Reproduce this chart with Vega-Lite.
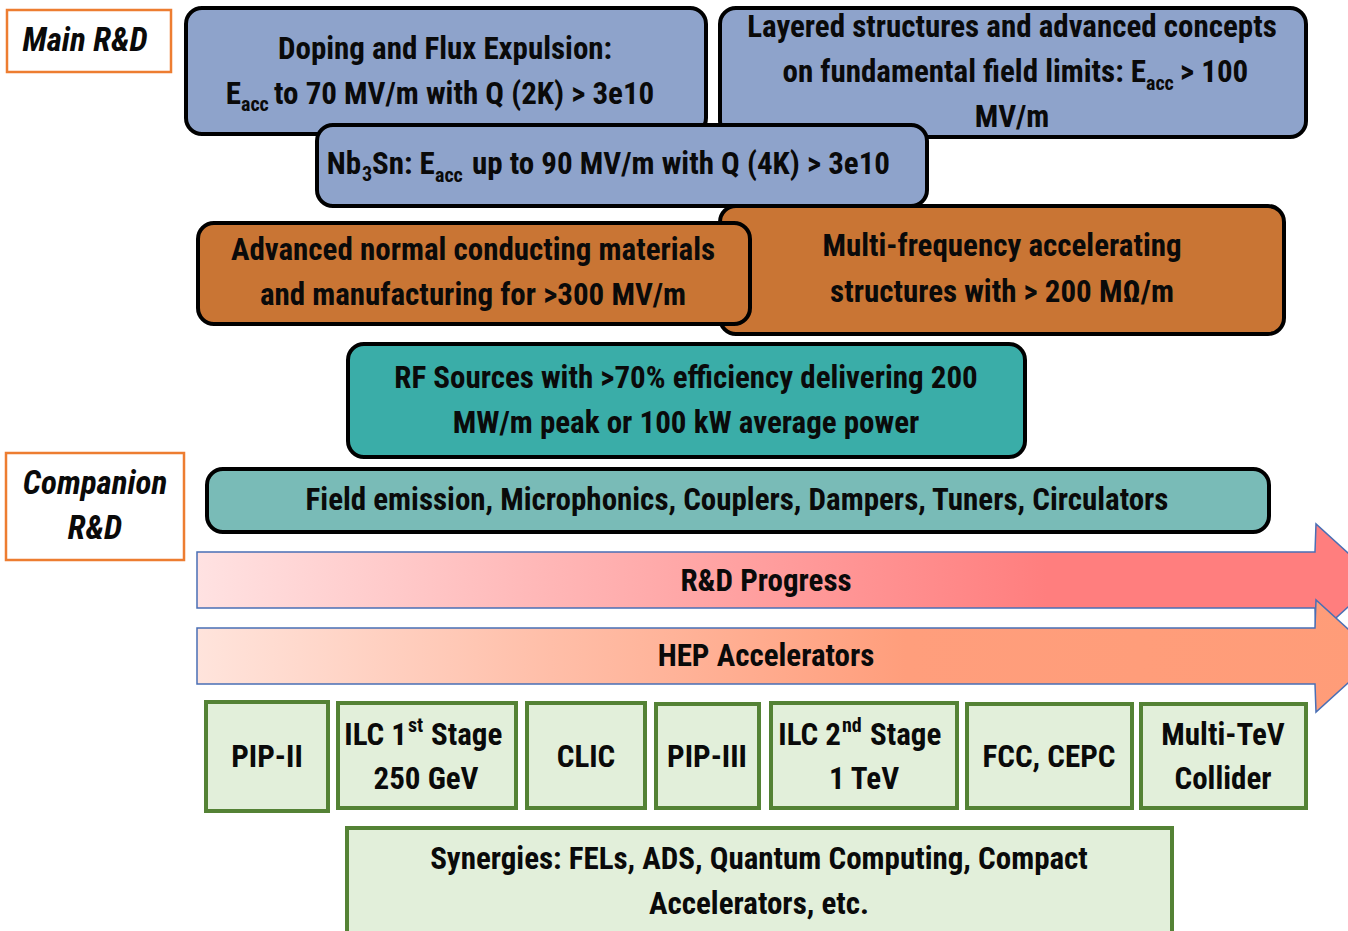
{
  "$schema": "https://vega.github.io/schema/vega-lite/v6.json",
  "width": 1348,
  "height": 931,
  "padding": 0,
  "autosize": {"type": "none"},
  "background": "white",
  "config": {
    "view": {"stroke": null},
    "text": {"font": "Roboto Condensed, Liberation Sans Narrow, DejaVu Sans Condensed, sans-serif", "fontWeight": "bold", "color": "#0A0A0A", "baseline": "middle"}
  },
  "datasets": {
    "boxes": [
      {"name": "Main R&D", "kind": "label", "x": 7, "x2": 171, "y": 10, "y2": 72},
      {"name": "Companion R&D", "kind": "label", "x": 6, "x2": 184, "y": 453, "y2": 560},
      {"name": "Doping", "kind": "blue", "x": 186, "x2": 706, "y": 8, "y2": 134},
      {"name": "Layered", "kind": "blue", "x": 720, "x2": 1306, "y": 8, "y2": 137},
      {"name": "Nb3Sn", "kind": "blue", "x": 317, "x2": 927, "y": 125, "y2": 206},
      {"name": "Multi-frequency", "kind": "orange", "x": 720, "x2": 1284, "y": 206, "y2": 334},
      {"name": "Advanced NC", "kind": "orange", "x": 198, "x2": 750, "y": 223, "y2": 324},
      {"name": "RF Sources", "kind": "teal", "x": 348, "x2": 1025, "y": 344, "y2": 457},
      {"name": "Field emission", "kind": "lightteal", "x": 207, "x2": 1269, "y": 469, "y2": 532},
      {"name": "PIP-II", "kind": "green", "x": 206, "x2": 328, "y": 702, "y2": 811},
      {"name": "ILC 1st", "kind": "green", "x": 338, "x2": 516, "y": 703, "y2": 808},
      {"name": "CLIC", "kind": "green", "x": 527, "x2": 645, "y": 703, "y2": 808},
      {"name": "PIP-III", "kind": "green", "x": 656, "x2": 759, "y": 704, "y2": 808},
      {"name": "ILC 2nd", "kind": "green", "x": 771, "x2": 957, "y": 703, "y2": 808},
      {"name": "FCC", "kind": "green", "x": 967, "x2": 1132, "y": 704, "y2": 808},
      {"name": "Multi-TeV", "kind": "green", "x": 1141, "x2": 1306, "y": 704, "y2": 808},
      {"name": "Synergies", "kind": "green", "x": 347, "x2": 1172, "y": 828, "y2": 940}
    ],
    "arrows": [
      {"arrow": "R&D Progress", "x": 197, "y": 552, "y2": 608},
      {"arrow": "R&D Progress", "x": 1315, "y": 552, "y2": 608},
      {"arrow": "R&D Progress", "x": 1316, "y": 524, "y2": 636},
      {"arrow": "R&D Progress", "x": 1378, "y": 580, "y2": 580},
      {"arrow": "HEP Accelerators", "x": 197, "y": 628, "y2": 684},
      {"arrow": "HEP Accelerators", "x": 1315, "y": 628, "y2": 684},
      {"arrow": "HEP Accelerators", "x": 1316, "y": 600, "y2": 712},
      {"arrow": "HEP Accelerators", "x": 1378, "y": 656, "y2": 656}
    ],
    "texts": [
      {"text": "Main R&D", "role": "italic", "x": 85, "y": 41},
      {"text": "Companion", "role": "italic", "x": 95, "y": 484},
      {"text": "R&D", "role": "italic", "x": 95, "y": 529},
      {"text": "Doping and Flux Expulsion:", "role": "center", "x": 445, "y": 50},
      {"text": "E", "role": "right", "x": 241, "y": 95},
      {"text": "acc", "role": "sub", "x": 241, "y": 105},
      {"text": "to 70 MV/m with Q (2K) > 3e10", "role": "left", "x": 274, "y": 95},
      {"text": "Layered structures and advanced concepts", "role": "center", "x": 1012, "y": 28},
      {"text": "on fundamental field limits: E", "role": "right", "x": 1146, "y": 73},
      {"text": "acc", "role": "sub", "x": 1146, "y": 84},
      {"text": "> 100", "role": "left", "x": 1180, "y": 73},
      {"text": "MV/m", "role": "center", "x": 1012, "y": 118},
      {"text": "Nb", "role": "right", "x": 361, "y": 165},
      {"text": "3", "role": "sub", "x": 362, "y": 175},
      {"text": "Sn: E", "role": "left", "x": 372, "y": 165},
      {"text": "acc", "role": "sub", "x": 435, "y": 176},
      {"text": "up to 90 MV/m with Q (4K) > 3e10", "role": "left", "x": 472, "y": 165},
      {"text": "Advanced normal conducting materials", "role": "center", "x": 473, "y": 251},
      {"text": "and manufacturing for >300 MV/m", "role": "center", "x": 473, "y": 296},
      {"text": "Multi-frequency accelerating", "role": "center", "x": 1002, "y": 247},
      {"text": "structures with > 200 MΩ/m", "role": "center", "x": 1002, "y": 293},
      {"text": "RF Sources with >70% efficiency delivering 200", "role": "center", "x": 686, "y": 379},
      {"text": "MW/m peak or 100 kW average power", "role": "center", "x": 686, "y": 424},
      {"text": "Field emission, Microphonics, Couplers, Dampers, Tuners, Circulators", "role": "center", "x": 737, "y": 501},
      {"text": "R&D Progress", "role": "center", "x": 766, "y": 582},
      {"text": "HEP Accelerators", "role": "center", "x": 766, "y": 657},
      {"text": "PIP-II", "role": "center", "x": 267, "y": 758},
      {"text": "ILC 1", "role": "right", "x": 407, "y": 736},
      {"text": "st", "role": "sup", "x": 408, "y": 726},
      {"text": "Stage", "role": "left", "x": 431, "y": 736},
      {"text": "250 GeV", "role": "center", "x": 426, "y": 780},
      {"text": "CLIC", "role": "center", "x": 586, "y": 758},
      {"text": "PIP-III", "role": "center", "x": 707, "y": 758},
      {"text": "ILC 2", "role": "right", "x": 841, "y": 736},
      {"text": "nd", "role": "sup", "x": 842, "y": 726},
      {"text": "Stage", "role": "left", "x": 870, "y": 736},
      {"text": "1 TeV", "role": "center", "x": 864, "y": 780},
      {"text": "FCC, CEPC", "role": "center", "x": 1049, "y": 758},
      {"text": "Multi-TeV", "role": "center", "x": 1223, "y": 736},
      {"text": "Collider", "role": "center", "x": 1223, "y": 780},
      {"text": "Synergies: FELs, ADS, Quantum Computing, Compact", "role": "center", "x": 759, "y": 860},
      {"text": "Accelerators, etc.", "role": "center", "x": 759, "y": 905}
    ]
  },
  "layer": [
    {
      "data": {"name": "arrows"},
      "transform": [{"filter": "datum.arrow === 'R&D Progress'"}],
      "mark": {"type": "area", "stroke": "#4A6FB5", "strokeWidth": 1.5, "clip": true,
        "color": {"gradient": "linear", "x1": 0, "y1": 0, "x2": 1, "y2": 0,
          "stops": [{"offset": 0, "color": "#FFE2E2"}, {"offset": 0.3, "color": "#FFB6B6"}, {"offset": 0.72, "color": "#FF7E7E"}, {"offset": 1, "color": "#FF7E7E"}]}},
      "encoding": {
        "x": {"field": "x", "type": "quantitative", "scale": {"domain": [0, 1348], "nice": false, "zero": false}, "axis": null},
        "y": {"field": "y", "type": "quantitative", "scale": {"domain": [0, 931], "nice": false, "zero": false, "reverse": true}, "axis": null},
        "y2": {"field": "y2"}
      }
    },
    {
      "data": {"name": "arrows"},
      "transform": [{"filter": "datum.arrow === 'HEP Accelerators'"}],
      "mark": {"type": "area", "stroke": "#4A6FB5", "strokeWidth": 1.5, "clip": true,
        "color": {"gradient": "linear", "x1": 0, "y1": 0, "x2": 1, "y2": 0,
          "stops": [{"offset": 0, "color": "#FFE4DC"}, {"offset": 0.3, "color": "#FFBEA8"}, {"offset": 0.6, "color": "#FF9E7C"}, {"offset": 1, "color": "#FF9C78"}]}},
      "encoding": {
        "x": {"field": "x", "type": "quantitative", "axis": null},
        "y": {"field": "y", "type": "quantitative", "axis": null},
        "y2": {"field": "y2"}
      }
    },
    {
      "data": {"name": "boxes"},
      "transform": [{"filter": "datum.kind === 'label'"}],
      "mark": {"type": "rect", "fill": "white", "stroke": "#ED7D31", "strokeWidth": 2.5},
      "encoding": {
        "x": {"field": "x", "type": "quantitative", "axis": null},
        "x2": {"field": "x2"},
        "y": {"field": "y", "type": "quantitative", "axis": null},
        "y2": {"field": "y2"}
      }
    },
    {
      "data": {"name": "boxes"},
      "transform": [{"filter": "indexof(['blue','orange','teal','lightteal'], datum.kind) >= 0"}],
      "mark": {"type": "rect", "stroke": "#000000", "strokeWidth": 4, "cornerRadius": 16},
      "encoding": {
        "x": {"field": "x", "type": "quantitative", "axis": null},
        "x2": {"field": "x2"},
        "y": {"field": "y", "type": "quantitative", "axis": null},
        "y2": {"field": "y2"},
        "fill": {"field": "kind", "type": "nominal", "legend": null,
          "scale": {"domain": ["blue", "orange", "teal", "lightteal"], "range": ["#8EA3CB", "#C97534", "#3AADA8", "#79BBB7"]}}
      }
    },
    {
      "data": {"name": "boxes"},
      "transform": [{"filter": "datum.kind === 'green'"}],
      "mark": {"type": "rect", "fill": "#E2EFDA", "stroke": "#548235", "strokeWidth": 4},
      "encoding": {
        "x": {"field": "x", "type": "quantitative", "axis": null},
        "x2": {"field": "x2"},
        "y": {"field": "y", "type": "quantitative", "axis": null},
        "y2": {"field": "y2"}
      }
    },
    {
      "data": {"name": "texts"},
      "transform": [{"filter": "datum.role === 'center'"}],
      "mark": {"type": "text", "align": "center", "fontSize": 31},
      "encoding": {
        "x": {"field": "x", "type": "quantitative", "axis": null},
        "y": {"field": "y", "type": "quantitative", "axis": null},
        "text": {"field": "text"}
      }
    },
    {
      "data": {"name": "texts"},
      "transform": [{"filter": "datum.role === 'left'"}],
      "mark": {"type": "text", "align": "left", "fontSize": 31},
      "encoding": {
        "x": {"field": "x", "type": "quantitative", "axis": null},
        "y": {"field": "y", "type": "quantitative", "axis": null},
        "text": {"field": "text"}
      }
    },
    {
      "data": {"name": "texts"},
      "transform": [{"filter": "datum.role === 'right'"}],
      "mark": {"type": "text", "align": "right", "fontSize": 31},
      "encoding": {
        "x": {"field": "x", "type": "quantitative", "axis": null},
        "y": {"field": "y", "type": "quantitative", "axis": null},
        "text": {"field": "text"}
      }
    },
    {
      "data": {"name": "texts"},
      "transform": [{"filter": "datum.role === 'sub' || datum.role === 'sup'"}],
      "mark": {"type": "text", "align": "left", "fontSize": 20},
      "encoding": {
        "x": {"field": "x", "type": "quantitative", "axis": null},
        "y": {"field": "y", "type": "quantitative", "axis": null},
        "text": {"field": "text"}
      }
    },
    {
      "data": {"name": "texts"},
      "transform": [{"filter": "datum.role === 'italic'"}],
      "mark": {"type": "text", "align": "center", "fontSize": 33, "fontStyle": "italic"},
      "encoding": {
        "x": {"field": "x", "type": "quantitative", "axis": null},
        "y": {"field": "y", "type": "quantitative", "axis": null},
        "text": {"field": "text"}
      }
    }
  ]
}
